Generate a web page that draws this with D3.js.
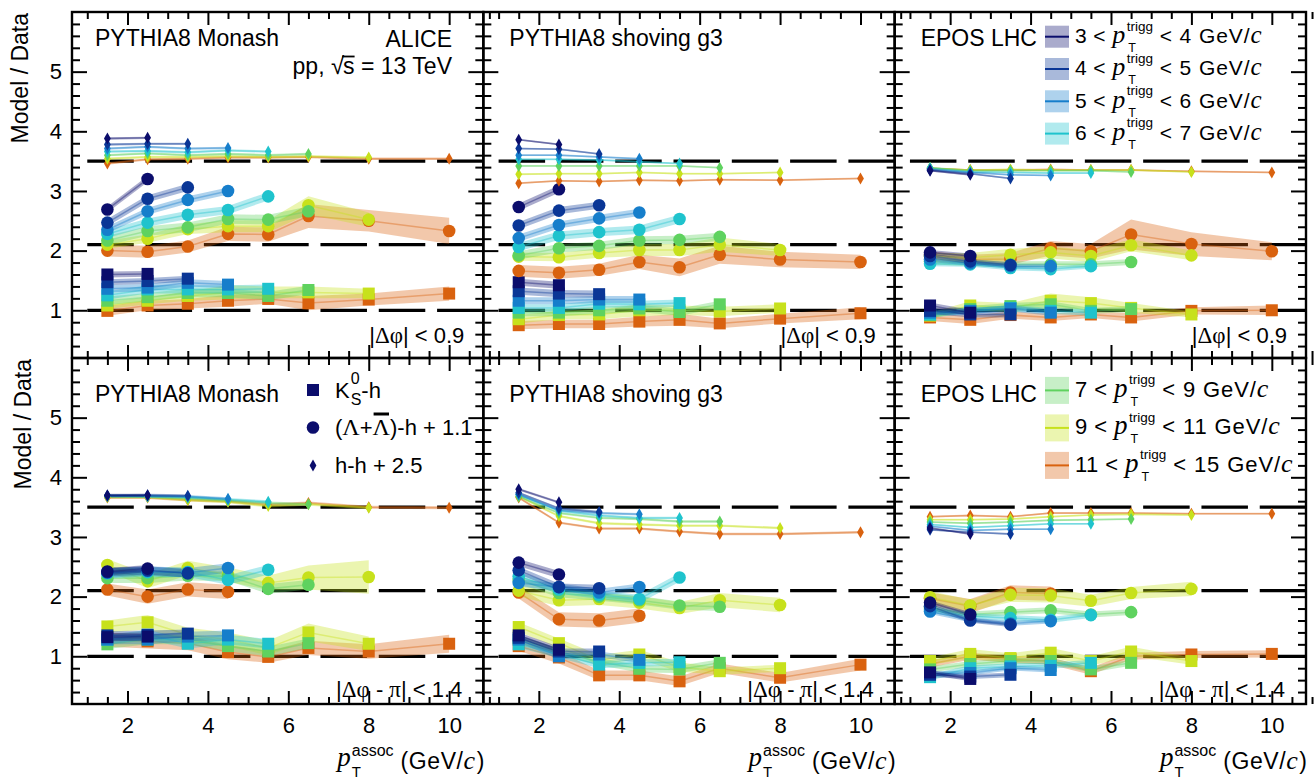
<!DOCTYPE html>
<html>
<head>
<meta charset="utf-8">
<script src="https://cdn.jsdelivr.net/npm/d3@7"></script>
<style>
  body { margin: 0; background: #fff; }
  svg text { font-family: "Liberation Sans", Arial, Helvetica, sans-serif; fill: #000; white-space: pre; }
</style>
</head>
<body>
<div id="chart"></div>
<script>
// ---- data ----------------------------------------------------------
const PT_ASSOC = [1.5, 2.5, 3.5, 4.5, 5.5, 6.5, 8, 10];
const TRIGG_LO = [3, 4, 5, 6, 7, 9, 11];
const TRIGG_HI = [4, 5, 6, 7, 9, 11, 15];
const COLORS = ["#0b0d6c", "#0a3696", "#167ecb", "#1fc3cd", "#5fd25f", "#c7e11c", "#d9620f"];
const MODELS = ["PYTHIA8 Monash", "PYTHIA8 shoving g3", "EPOS LHC"];
const OFFSETS = [0, 1.1, 2.5];      // K0S-h, Lambda-h (+1.1), h-h (+2.5)
const REF_LINES = [1, 2.1, 3.5];
const X_TICKS = [2, 4, 6, 8, 10];
const Y_TICKS = [1, 2, 3, 4, 5];

// ratios model/data, one array per trigger bin (3-4 ... 11-15 GeV/c)
const monashNearK0 = [
  [1.60, 1.61], [1.47, 1.49, 1.53], [1.36, 1.38, 1.46, 1.43], [1.25, 1.35, 1.35, 1.35, 1.36],
  [1.16, 1.22, 1.29, 1.29, 1.24, 1.34], [1.08, 1.16, 1.24, 1.30, 1.30, 1.30, 1.28],
  [0.99, 1.08, 1.11, 1.16, 1.19, 1.12, 1.18, 1.28]];
const monashNearLam = [
  [1.59, 2.10], [1.37, 1.77, 1.96], [1.25, 1.56, 1.75, 1.90], [1.18, 1.37, 1.50, 1.58, 1.81],
  [1.07, 1.23, 1.29, 1.43, 1.42, 1.56], [1.00, 1.10, 1.26, 1.31, 1.31, 1.66, 1.42],
  [0.90, 0.88, 0.97, 1.18, 1.17, 1.48, 1.40, 1.23]];
const monashNearHH = [
  [1.38, 1.39], [1.28, 1.29, 1.29], [1.21, 1.24, 1.21, 1.22], [1.16, 1.17, 1.15, 1.18, 1.16],
  [1.10, 1.13, 1.10, 1.12, 1.10, 1.12], [1.04, 1.07, 1.07, 1.08, 1.07, 1.08, 1.06],
  [0.96, 1.03, 1.04, 1.06, 1.06, 1.07, 1.04, 1.04]];

const shovingNearK0 = [
  [1.47, 1.42], [1.32, 1.28, 1.27], [1.16, 1.16, 1.18, 1.18], [1.04, 1.04, 1.11, 1.10, 1.12],
  [0.96, 0.96, 1.00, 1.03, 0.97, 1.10], [0.85, 0.92, 0.93, 1.00, 1.00, 0.98, 1.03],
  [0.75, 0.77, 0.77, 0.81, 0.84, 0.78, 0.86, 0.95]];
const shovingNearLam = [
  [1.63, 1.93], [1.32, 1.57, 1.66], [1.11, 1.33, 1.44, 1.54], [0.96, 1.15, 1.21, 1.25, 1.43],
  [0.82, 0.94, 0.98, 1.07, 1.08, 1.13], [0.80, 0.79, 0.86, 0.91, 0.91, 1.00, 0.91],
  [0.56, 0.53, 0.58, 0.71, 0.62, 0.83, 0.75, 0.71]];
const shovingNearHH = [
  [1.36, 1.28], [1.21, 1.20, 1.12], [1.10, 1.10, 1.07, 1.04], [1.03, 1.03, 1.02, 0.99, 0.96],
  [0.92, 0.92, 0.92, 0.92, 0.92, 0.89], [0.78, 0.79, 0.79, 0.81, 0.79, 0.79, 0.81],
  [0.63, 0.67, 0.66, 0.68, 0.67, 0.69, 0.68, 0.71]];

const eposNearK0 = [
  [1.08, 0.96], [0.99, 0.93, 0.93], [0.96, 0.99, 1.03, 0.96], [0.93, 0.99, 1.04, 0.99, 0.96],
  [0.92, 1.02, 1.07, 1.10, 0.99, 1.02], [0.91, 1.08, 1.04, 1.16, 1.12, 1.04, 0.93],
  [0.88, 0.84, 0.92, 0.88, 0.93, 0.88, 0.99, 1.00]];
const eposNearLam = [
  [0.87, 0.81], [0.81, 0.72, 0.66], [0.75, 0.69, 0.64, 0.64], [0.68, 0.67, 0.61, 0.59, 0.64],
  [0.72, 0.69, 0.67, 0.67, 0.67, 0.71], [0.80, 0.78, 0.83, 0.87, 0.81, 0.99, 0.82],
  [0.83, 0.75, 0.76, 0.94, 0.89, 1.17, 1.01, 0.89]];
const eposNearHH = [
  [0.84, 0.77], [0.85, 0.79, 0.71], [0.86, 0.81, 0.77, 0.76], [0.88, 0.82, 0.81, 0.80, 0.80],
  [0.89, 0.84, 0.84, 0.84, 0.84, 0.82], [0.88, 0.85, 0.86, 0.85, 0.85, 0.85, 0.82],
  [0.88, 0.85, 0.85, 0.86, 0.85, 0.85, 0.83, 0.81]];

const monashAwayK0 = [
  [1.32, 1.33], [1.35, 1.36, 1.38], [1.28, 1.28, 1.33, 1.35], [1.28, 1.36, 1.21, 1.28, 1.21],
  [1.20, 1.28, 1.28, 1.17, 1.08, 1.22], [1.50, 1.57, 1.36, 1.28, 1.14, 1.40, 1.21],
  [1.28, 1.25, 1.22, 1.07, 0.99, 1.14, 1.08, 1.21]];
const monashAwayLam = [
  [1.32, 1.37], [1.31, 1.34, 1.29], [1.30, 1.33, 1.30, 1.38], [1.29, 1.31, 1.31, 1.18, 1.35],
  [1.21, 1.21, 1.25, 1.24, 1.03, 1.10], [1.43, 1.16, 1.38, 1.27, 1.13, 1.22, 1.23],
  [1.02, 0.90, 1.02, 0.98]];
const monashAwayHH = [
  [1.20, 1.20], [1.19, 1.20, 1.19], [1.19, 1.19, 1.18, 1.14], [1.19, 1.18, 1.17, 1.13, 1.09],
  [1.18, 1.18, 1.15, 1.11, 1.07, 1.05], [1.17, 1.17, 1.12, 1.09, 1.02, 1.05, 0.99],
  [1.16, 1.16, 1.12, 1.10, 1.04, 1.07, 1.00, 0.99]];

const shovingAwayK0 = [
  [1.35, 1.11], [1.31, 1.08, 1.08], [1.28, 1.00, 1.03, 0.94], [1.20, 1.03, 0.86, 0.89, 0.90],
  [1.28, 1.08, 0.91, 0.79, 0.78, 0.89], [1.49, 1.22, 0.94, 1.03, 0.82, 0.75, 0.80],
  [1.17, 0.98, 0.68, 0.68, 0.58, 0.80, 0.64, 0.86]];
const shovingAwayLam = [
  [1.47, 1.27], [1.34, 1.06, 1.04], [1.13, 1.06, 0.97, 1.06], [1.24, 1.02, 0.93, 0.86, 1.22],
  [1.18, 0.96, 0.90, 0.84, 0.75, 0.73], [1.00, 0.84, 0.86, 0.80, 0.71, 0.84, 0.76],
  [0.97, 0.52, 0.50, 0.58]];
const shovingAwayHH = [
  [1.30, 1.08], [1.24, 0.98, 0.92], [1.21, 0.95, 0.90, 0.88], [1.21, 0.94, 0.86, 0.82, 0.82],
  [1.18, 0.90, 0.82, 0.80, 0.76, 0.76], [1.18, 0.85, 0.73, 0.71, 0.69, 0.69, 0.65],
  [1.16, 0.74, 0.64, 0.64, 0.59, 0.55, 0.55, 0.58]];

const eposAwayK0 = [
  [0.73, 0.62], [0.69, 0.66, 0.69], [0.71, 0.72, 0.80, 0.77], [0.65, 0.80, 0.83, 0.84, 0.89],
  [0.78, 0.87, 0.92, 0.92, 0.78, 0.89], [0.92, 1.04, 0.97, 1.06, 0.92, 1.08, 0.92],
  [0.87, 1.00, 0.95, 0.92, 0.75, 1.00, 1.03, 1.04]];
const eposAwayLam = [
  [0.80, 0.60], [0.74, 0.50, 0.43], [0.65, 0.51, 0.45, 0.49], [0.68, 0.57, 0.54, 0.51, 0.59],
  [0.71, 0.60, 0.64, 0.67, 0.60, 0.64], [0.89, 0.75, 0.93, 0.92, 0.83, 0.96, 1.03],
  [0.87, 0.74, 0.97, 0.95]];
const eposAwayHH = [
  [0.65, 0.55], [0.62, 0.58, 0.55], [0.68, 0.61, 0.63, 0.63], [0.71, 0.66, 0.69, 0.72, 0.72],
  [0.75, 0.73, 0.75, 0.78, 0.79, 0.80], [0.79, 0.79, 0.80, 0.84, 0.87, 0.88, 0.87],
  [0.84, 0.86, 0.84, 0.90, 0.90, 0.90, 0.89, 0.89]];

// uncertainty half-widths (one value per bin, or one per point)
const monashNearK0Err = [0.05, 0.05, 0.06, 0.07, 0.07, [0.06, 0.06, 0.08, 0.12, 0.1, 0.1, 0.08], [0.08, 0.08, 0.08, 0.1, 0.08, 0.12, 0.1, 0.12]];
const monashNearLamErr = [0.05, 0.06, 0.06, 0.07, 0.08, [0.07, 0.07, 0.08, 0.1, 0.1, 0.15, 0.12], [0.1, 0.1, 0.1, 0.12, 0.12, 0.2, 0.18, 0.22]];
const monashNearHHErr = [0.02, 0.02, 0.02, 0.02, 0.02, 0.02, 0.02];
const shovingNearK0Err = [0.06, 0.06, 0.06, 0.06, 0.06, [0.07, 0.07, 0.08, 0.1, 0.08, 0.08, 0.07], [0.07, 0.07, 0.07, 0.08, 0.1, 0.08, 0.08, 0.1]];
const shovingNearLamErr = [0.06, 0.06, 0.06, 0.07, 0.07, [0.07, 0.07, 0.08, 0.1, 0.1, 0.12, 0.1], [0.1, 0.1, 0.1, 0.12, 0.15, 0.15, 0.13, 0.12]];
const shovingNearHHErr = [0.015, 0.015, 0.015, 0.015, 0.015, 0.015, 0.015];
const eposNearK0Err = [0.05, 0.05, 0.05, 0.05, 0.05, [0.05, 0.07, 0.08, 0.12, 0.1, 0.08, 0.05], [0.06, 0.07, 0.06, 0.06, 0.06, 0.07, 0.06, 0.08]];
const eposNearLamErr = [0.04, 0.04, 0.04, 0.04, 0.05, [0.06, 0.08, 0.1, 0.1, 0.1, 0.1, 0.08], [0.06, 0.08, 0.1, 0.12, 0.12, 0.25, 0.2, 0.15]];
const eposNearHHErr = [0.015, 0.015, 0.015, 0.015, 0.015, 0.015, 0.015];
const monashAwayK0Err = [0.07, 0.07, 0.08, 0.08, 0.08, [0.1, 0.12, 0.12, 0.12, 0.12, 0.15, 0.12], [0.12, 0.12, 0.12, 0.12, 0.1, 0.12, 0.12, 0.15]];
const monashAwayLamErr = [0.06, 0.07, 0.08, 0.08, 0.08, [0.1, 0.12, 0.12, 0.12, 0.12, 0.2, 0.28], [0.1, 0.12, 0.12, 0.12]];
const monashAwayHHErr = [0.025, 0.025, 0.025, 0.025, 0.025, 0.025, 0.025];
const shovingAwayK0Err = [0.05, 0.05, 0.05, 0.06, 0.06, [0.08, 0.08, 0.08, 0.08, 0.08, 0.06, 0.06], [0.08, 0.1, 0.08, 0.08, 0.08, 0.08, 0.08, 0.1]];
const shovingAwayLamErr = [0.06, 0.06, 0.06, 0.07, 0.07, [0.1, 0.1, 0.1, 0.1, 0.1, 0.12, 0.12], [0.1, 0.12, 0.12, 0.12]];
const shovingAwayHHErr = [0.02, 0.02, 0.02, 0.02, 0.02, 0.02, 0.02];
const eposAwayK0Err = [0.04, 0.04, 0.04, 0.05, 0.05, [0.06, 0.08, 0.08, 0.08, 0.08, 0.08, 0.06], 0.06];
const eposAwayLamErr = [0.04, 0.04, 0.04, 0.05, 0.05, [0.1, 0.1, 0.12, 0.12, 0.1, 0.1, 0.12], [0.1, 0.12, 0.12, 0.12]];
const eposAwayHHErr = [0.015, 0.015, 0.015, 0.015, 0.015, 0.015, 0.015];

const PANELS = [
  {model: 0, row: 0, col: 0, vals: [monashNearK0, monashNearLam, monashNearHH], errs: [monashNearK0Err, monashNearLamErr, monashNearHHErr]},
  {model: 1, row: 0, col: 1, vals: [shovingNearK0, shovingNearLam, shovingNearHH], errs: [shovingNearK0Err, shovingNearLamErr, shovingNearHHErr]},
  {model: 2, row: 0, col: 2, vals: [eposNearK0, eposNearLam, eposNearHH], errs: [eposNearK0Err, eposNearLamErr, eposNearHHErr]},
  {model: 0, row: 1, col: 0, vals: [monashAwayK0, monashAwayLam, monashAwayHH], errs: [monashAwayK0Err, monashAwayLamErr, monashAwayHHErr]},
  {model: 1, row: 1, col: 1, vals: [shovingAwayK0, shovingAwayLam, shovingAwayHH], errs: [shovingAwayK0Err, shovingAwayLamErr, shovingAwayHHErr]},
  {model: 2, row: 1, col: 2, vals: [eposAwayK0, eposAwayLam, eposAwayHH], errs: [eposAwayK0Err, eposAwayLamErr, eposAwayHHErr]}
];

// ---- layout --------------------------------------------------------
const W = 1314, H = 781;
const LEFT = 72, RIGHT = 1306;
const PW = (RIGHT - LEFT) / 3;
const ROW_TOP = [12, 358];
const PH = 346;
const X_DOMAIN = [0.62, 10.85];
const Y_DOMAIN = [0.2, 6.0];
const SERIF = "'Liberation Serif', 'DejaVu Serif', serif";

const svg = d3.select("#chart").append("svg")
  .attr("width", W).attr("height", H)

const x = d3.scaleLinear().domain(X_DOMAIN).range([0, PW])
const y = d3.scaleLinear().domain(Y_DOMAIN).range([PH, 0])

// draws a row of text pieces left to right, measuring each piece
function rich(g, px, py, segs, anchor) {
  const grp = g.append("g")
  let cx = 0
  segs.forEach(s => {
    if (s.stack) {
      const a = grp.append("text").attr("x", cx + (s.supDx || 0)).attr("y", s.supY)
        .attr("xml:space", "preserve").style("font-size", s.size + "px").text(s.stack[0])
      const b = grp.append("text").attr("x", cx + (s.subDx || 0)).attr("y", s.subY)
        .attr("xml:space", "preserve").style("font-size", (s.subSize || s.size) + "px").text(s.stack[1])
      cx += Math.max(a.node().getComputedTextLength() + (s.supDx || 0),
                     b.node().getComputedTextLength() + (s.subDx || 0)) + (s.after || 0)
    } else {
      const t = grp.append("text").attr("x", cx).attr("y", s.dy || 0)
        .attr("xml:space", "preserve").style("font-size", s.size + "px").text(s.t)
      if (s.serif) t.style("font-family", SERIF)
      if (s.italic) t.style("font-style", "italic")
      if (s.ls) t.style("letter-spacing", s.ls + "px")
      const w = t.node().getComputedTextLength()
      if (s.over) {
        grp.append("line")
          .attr("x1", cx + s.over[0]).attr("x2", cx + w + s.over[1])
          .attr("y1", s.over[2]).attr("y2", s.over[2])
          .attr("stroke", "#000").attr("stroke-width", s.over[3])
      }
      cx += w + (s.after || 0)
    }
  })
  grp.attr("transform", `translate(${anchor === "end" ? px - cx : px},${py})`)
  return cx
}

function diamondPath(hw, hh) {
  return `M0,${-hh}L${hw},0L0,${hh}L${-hw},0Z`
}

function drawMarker(g, shape, cx, cy, color) {
  if (shape === 0) {
    g.append("rect").attr("x", cx - 6).attr("y", cy - 6).attr("width", 12).attr("height", 12).attr("fill", color)
  } else if (shape === 1) {
    g.append("circle").attr("cx", cx).attr("cy", cy).attr("r", 6.3).attr("fill", color)
  } else {
    g.append("path").attr("d", diamondPath(3.4, 6)).attr("transform", `translate(${cx},${cy})`).attr("fill", color)
  }
}

const band = d3.area().x(d => x(d.x)).y0(d => y(d.v - d.e)).y1(d => y(d.v + d.e))
const line = d3.line().x(d => x(d.x)).y(d => y(d.v))

PANELS.forEach(p => {
  const g = svg.append("g").attr("transform", `translate(${LEFT + p.col * PW},${ROW_TOP[p.row]})`)

  // reference lines
  REF_LINES.forEach(r => {
    g.append("line")
      .attr("x1", x(1)).attr("x2", x(X_DOMAIN[1]))
      .attr("y1", y(r)).attr("y2", y(r))
      .attr("stroke", "#000").attr("stroke-width", 3.2)
      .attr("stroke-dasharray", "46.5 11.8")
  })

  // bands + markers, widest trigger bin first so the lowest bin ends on top
  for (let s = 0; s < 3; s++) {
    const series = p.vals[s].map((vals, c) => vals.map((v, i) => ({
      x: PT_ASSOC[i],
      v: v + OFFSETS[s],
      e: Array.isArray(p.errs[s][c]) ? p.errs[s][c][i] : p.errs[s][c]
    })))
    for (let c = 6; c >= 0; c--) {
      g.append("path").attr("d", band(series[c]))
        .attr("fill", COLORS[c]).attr("fill-opacity", 0.35)
      g.append("path").attr("d", line(series[c]))
        .attr("fill", "none").attr("stroke", COLORS[c]).attr("stroke-opacity", 0.4).attr("stroke-width", 1.5)
    }
    for (let c = 6; c >= 0; c--) {
      series[c].forEach(d => drawMarker(g, s, x(d.x), y(d.v), COLORS[c]))
    }
  }

  // axes: ticks inside on all four sides
  const minorX = d3.range(1, 11.01, 0.5).filter(v => v % 2 !== 0)
  const minorY = d3.range(0.4, 6.0, 0.2).filter(v => Math.abs(v - Math.round(v)) > 0.01)
  const showX = p.row === 1, showY = p.col === 0

  const axes = [
    [d3.axisBottom(x).tickValues(X_TICKS).tickSize(-13).tickPadding(13).tickFormat(showX ? d3.format("d") : ""), `translate(0,${PH})`],
    [d3.axisBottom(x).tickValues(minorX).tickSize(-7).tickFormat(""), `translate(0,${PH})`],
    [d3.axisTop(x).tickValues(X_TICKS).tickSize(-13).tickFormat(""), null],
    [d3.axisTop(x).tickValues(minorX).tickSize(-7).tickFormat(""), null],
    [d3.axisLeft(y).tickValues(Y_TICKS).tickSize(-15).tickPadding(10).tickFormat(showY ? d3.format("d") : ""), null],
    [d3.axisLeft(y).tickValues(minorY).tickSize(-8).tickFormat(""), null],
    [d3.axisRight(y).tickValues(Y_TICKS).tickSize(-15).tickFormat(""), `translate(${PW},0)`],
    [d3.axisRight(y).tickValues(minorY).tickSize(-8).tickFormat(""), `translate(${PW},0)`]
  ]
  axes.forEach(([ax, tr]) => {
    const a = g.append("g").call(ax)
    if (tr) a.attr("transform", tr)
    a.select(".domain").remove()
    a.selectAll(".tick line").attr("stroke", "#000").attr("stroke-width", 2)
    a.selectAll(".tick text").style("font-size", "22px")
      .style("font-family", "'Liberation Sans', Arial, sans-serif").attr("fill", "#000")
  })

  g.append("rect").attr("width", PW).attr("height", PH)
    .attr("fill", "none").attr("stroke", "#000").attr("stroke-width", 2.4)

  // labels
  const titleY = p.row === 0 ? 34 : 44
  const titleX = p.col === 2 ? 26 : (p.col === 0 ? 23 : 26)
  g.append("text").attr("x", titleX).attr("y", titleY).style("font-size", "23px").text(MODELS[p.model])

  if (p.row === 0) {
    rich(g, PW - 19, PH - 15, [
      {t: "|", size: 22}, {t: "Δφ", size: 23, serif: true}, {t: "| < 0.9", size: 22}], "end")
  } else {
    rich(g, PW - 21, PH - 7, [
      {t: "|", size: 22}, {t: "Δφ", size: 23, serif: true}, {t: " - ", size: 22},
      {t: "π", size: 23, serif: true}, {t: "| < 1.4", size: 22}], "end")
    // x-axis title
    rich(g, PW + 1, PH + 65, [
      {t: "p", size: 27, serif: true, italic: true, dy: -3, after: 1},
      {stack: ["assoc", "T"], size: 16, subSize: 15, supY: -13, subY: 8, subDx: 0},
      {t: " (GeV/", size: 23, ls: 0.6},
      {t: "c", size: 26, serif: true, italic: true, after: 1.5},
      {t: ")", size: 23}], "end")
  }

  if (p.col === 0) {
    g.append("text")
      .attr("transform", `translate(${p.row === 0 ? -44 : -41},1) rotate(-90)`)
      .attr("text-anchor", "end").style("font-size", "23px").text("Model / Data")
  }
})

// ---- ALICE label --------------------------------------------------
const aliceG = svg.append("g")
aliceG.append("text").attr("x", 452).attr("y", 47).attr("text-anchor", "end").style("font-size", "23px").text("ALICE")
rich(aliceG, 452, 74, [
  {t: "pp, ", size: 23},
  {t: "√", size: 24, after: -1},
  {t: "s", size: 23, over: [-1, 0, -17.5, 1.8]},
  {t: " = 13 TeV", size: 23}], "end")

// ---- trigger-bin legends (EPOS panels) -----------------------------
function triggLegend(bins, firstBase, step, swH, fontSize) {
  bins.forEach((b, k) => {
    const base = firstBase + k * step
    const cy = base - 6.3
    svg.append("rect").attr("x", 1045).attr("y", cy - swH / 2).attr("width", 24).attr("height", swH)
      .attr("fill", COLORS[b]).attr("fill-opacity", 0.35)
    svg.append("line").attr("x1", 1045).attr("x2", 1069).attr("y1", cy).attr("y2", cy)
      .attr("stroke", COLORS[b]).attr("stroke-width", 2)
    rich(svg, 1075, base, [
      {t: `${TRIGG_LO[b]} < `, size: fontSize, ls: 0.4},
      {t: "p", size: fontSize + 5, serif: true, italic: true, after: 1.5},
      {stack: ["trigg", "T"], size: 13.5, subSize: 12.5, supY: -12.5, subY: 9, subDx: 1.5},
      {t: ` < ${TRIGG_HI[b]} GeV/`, size: fontSize, ls: 0.9},
      {t: "c", size: fontSize + 4, serif: true, italic: true}])
  })
}
triggLegend([0, 1, 2, 3], 43, 32.3, 22, 21)
triggLegend([4, 5, 6], 396.7, 37.5, 27, 22)

// ---- species legend (bottom-left panel) ----------------------------
const legY = [390, 427.5, 465.5]
legY.forEach((ly, s) => drawMarker(svg, s, 313, ly, COLORS[0]))
rich(svg, 335, 398, [
  {t: "K", size: 22, after: 1},
  {stack: ["0", "S"], size: 16, supY: -14, subY: 7},
  {t: "-h", size: 22}])
rich(svg, 335, 435, [
  {t: "(", size: 22},
  {t: "Λ", size: 24, serif: true},
  {t: "+", size: 22},
  {t: "Λ", size: 24, serif: true, over: [1, -1, -21, 3]},
  {t: ")-h + 1.1", size: 22}])
rich(svg, 335, 472.5, [{t: "h-h + 2.5", size: 22}])
</script>
</body>
</html>
